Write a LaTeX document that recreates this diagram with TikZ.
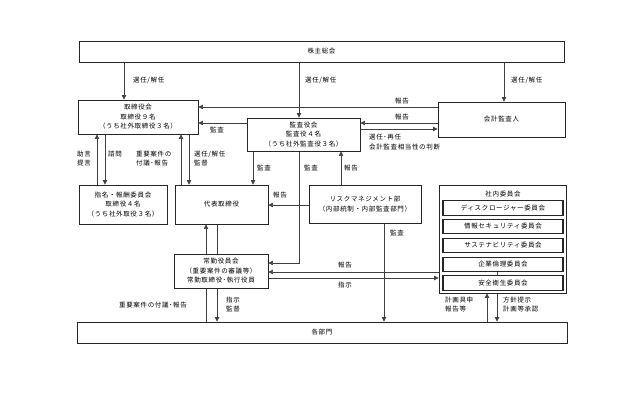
\documentclass[tikz,border=0pt]{standalone}
\usepackage{fontspec}
\setmainfont{Noto Sans CJK JP}[LetterSpace=10]
\usetikzlibrary{arrows.meta,backgrounds}
\newcommand{\fs}{\fontsize{6.5}{9.5}\selectfont}
\begin{document}
\begin{tikzpicture}[x=1pt,y=-1pt,
  box/.style={draw=black!85, line width=0.9pt, fill=white, inner sep=0pt, align=center, font=\fs, text=black},
  ibox/.style={box, line width=1.1pt, minimum width=120pt, minimum height=14.5pt},
  lbl/.style={inner sep=0pt, font=\fs, text=black},
  lbll/.style={lbl, anchor=west, align=left},
  conn/.style={draw=black!75, line width=0.7pt},
  arr/.style={conn, -{Triangle[length=4.5pt,width=4.5pt]}}]
\useasboundingbox (0,0) rectangle (639,392);

% boxes
\node[box, minimum width=485pt, minimum height=21pt] (sh) at (321.5,51.5) {株主総会};
\node[box, minimum width=120pt, minimum height=34pt] (tor) at (138,117) {取締役会\\取締役９名\\（うち社外取締役３名）};
\node[box, minimum width=113pt, minimum height=33pt] (kan) at (303.5,134.5) {監査役会\\監査役４名\\（うち社外監査役３名）};
\node[box, minimum width=127pt, minimum height=35pt] (kai) at (501.5,119.5) {会計監査人};
\node[box, minimum width=88pt, minimum height=39pt] (shi) at (123,204.5) {指名・報酬委員会\\取締役４名\\（うち社外取役３名）};
\node[box, minimum width=93pt, minimum height=39pt] (dai) at (221.5,204.5) {代表取締役};
\node[box, minimum width=112pt, minimum height=38pt] (risk) at (365,204) {リスクマネジメント部\\（内部統制・内部監査部門）};
\node[box, minimum width=127pt, minimum height=108pt] (sha) at (502.5,239) {};
\node[lbl] (shalbl) at (503,194) {社内委員会};
\node[ibox] (c1) at (503,208) {ディスクロージャー委員会};
\node[ibox] (c2) at (503,226.5) {情報セキュリティ委員会};
\node[ibox] (c3) at (503,245.5) {サステナビリティ委員会};
\node[ibox] (c4) at (503,264.5) {企業倫理委員会};
\node[ibox] (c5) at (503,283) {安全衛生委員会};
\node[box, minimum width=94pt, minimum height=34pt] (jou) at (221,271) {常勤役員会\\（重要案件の審議等）\\常勤取締役･執行役員};
\node[box, minimum width=490pt, minimum height=21pt] (kak) at (322,332.5) {各部門};

% connectors
\begin{pgfonlayer}{background}
\draw[arr] (sh.south -| 124,0) -- (tor.north -| 124,0);
\draw[arr] (sh.south -| 299,0) -- (kan.north -| 299,0);
\draw[arr] (sh.south -| 504,0) -- (kai.north -| 504,0);
\draw[arr] (kai.west |- 0,107) -- (tor.east |- 0,107);
\draw[arr] (kai.west |- 0,123) -- (kan.east |- 0,123);
\draw[arr] (kan.east |- 0,129) -- (kai.west |- 0,129);
\draw[arr] (kan.west |- 0,123) -- (tor.east |- 0,123);
\draw[arr] (shi.north -| 97,0) -- (tor.south -| 97,0);
\draw[arr] (tor.south -| 105,0) -- (shi.north -| 105,0);
\draw[arr] (dai.north -| 181,0) -- (tor.south -| 181,0);
\draw[arr] (tor.south -| 189,0) -- (dai.north -| 189,0);
\draw[arr] (kan.south -| 253,0) -- (dai.north -| 253,0);
\draw[arr] (kan.south -| 299,0) |- (jou.east |- 0,263);
\draw[arr] (risk.north -| 341,0) -- (kan.south -| 341,0);
\draw[arr] (risk.west |- 0,205) -- (dai.east |- 0,205);
\draw[arr] (kak.north -| 206,0) -- (dai.south -| 206,0);
\draw[arr] (dai.south -| 217,0) -- (kak.north -| 217,0);
\draw[arr] (risk.south -| 384,0) -- (kak.north -| 384,0);
\draw[arr] (sha.west |- 0,272) -- (jou.east |- 0,272);
\draw[arr] (jou.east |- 0,278) -- (sha.west |- 0,278);
\draw[arr] (kak.north -| 487,0) -- (sha.south -| 487,0);
\draw[arr] (sha.south -| 497,0) -- (kak.north -| 497,0);
\end{pgfonlayer}
\draw[conn] (c4.south -| 497,0) -- (c5.north -| 497,0);

% labels
\node[lbll] (l1) at (133,80) {選任/解任};
\node[lbll] (l2) at (305,80) {選任/解任};
\node[lbll] (l3) at (511,80) {選任/解任};
\node[lbl] (l4) at (402,101.5) {報告};
\node[lbl] (l5) at (402,117.5) {報告};
\node[lbll] (l6) at (369,137.5) {選任･再任};
\node[lbll] (l7) at (369,147.5) {会計監査相当性の判断};
\node[lbl] (l8) at (217,130) {監査};
\node[lbll] (l9) at (77,158.5) {助言\\提言};
\node[lbl] (l10) at (115,154) {諮問};
\node[lbll] (l11) at (136,158.5) {重要案件の\\付議･報告};
\node[lbll] (l12) at (194,158.5) {選任/解任\\監督};
\node[lbl] (l13) at (264,168) {監査};
\node[lbl] (l14) at (311,168) {監査};
\node[lbl] (l15) at (351,168) {報告};
\node[lbl] (l16) at (280,195) {報告};
\node[lbl] (l17) at (397,233) {監査};
\node[lbl] (l18) at (345,265) {報告};
\node[lbl] (l19) at (345,285) {指示};
\node[lbl] (l20) at (153,305) {重要案件の付議･報告};
\node[lbll] (l21) at (226,304.5) {指示\\監督};
\node[lbll] (l22) at (445,304.5) {計画具申\\報告等};
\node[lbll] (l23) at (503,304.5) {方針提示\\計画等承認};
\end{tikzpicture}
\end{document}
